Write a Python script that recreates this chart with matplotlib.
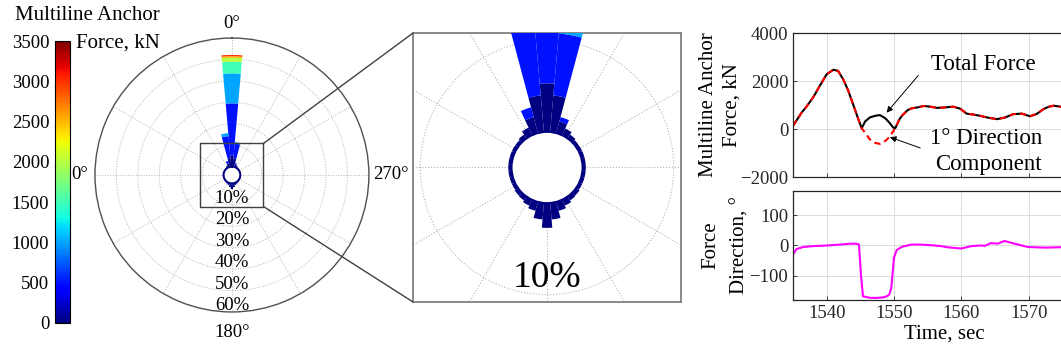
import numpy as np
import matplotlib
matplotlib.use('Agg')
import matplotlib.pyplot as plt
from matplotlib.patches import Wedge, Circle, ConnectionPatch
from matplotlib.colors import Normalize
from matplotlib.cm import ScalarMappable

plt.rcParams['font.family'] = ['Liberation Serif', 'DejaVu Serif']

# ---- wind rose data: 10 deg direction bins, 0 at top, counter-clockwise
directions = np.arange(0, 360, 10)
force_lo = [0, 500, 1000, 1500, 2000, 2500, 3000]   # lower bound of each force class, kN
f_0_500 = [5.3, 4.0, 1.8, 0.9, 0.5, 0.35, 0.35, 0.35, 0.35, 0.35, 0.35, 0.35,
           0.35, 0.45, 0.5, 0.7, 1.0, 1.8, 2.7, 1.8, 1.0, 0.7, 0.5, 0.45,
           0.35, 0.35, 0.35, 0.35, 0.35, 0.35, 0.35, 0.35, 0.5, 0.8, 1.3, 4.0]
f_500_1000 = [24.2, 10.3, 1.1, 0, 0, 0, 0, 0, 0, 0, 0, 0,
              0, 0, 0, 0, 0, 0, 0, 0, 0, 0, 0, 0,
              0, 0, 0, 0, 0, 0, 0, 0, 0, 0, 0.5, 6.8]
f_1000_1500 = [14.0, 1.4, 0, 0, 0, 0, 0, 0, 0, 0, 0, 0,
               0, 0, 0, 0, 0, 0, 0, 0, 0, 0, 0, 0,
               0, 0, 0, 0, 0, 0, 0, 0, 0, 0, 0, 0.7]
f_1500_2000 = [5.4] + [0] * 35
f_2000_2500 = [1.9] + [0] * 35
f_2500_3000 = [0.7] + [0] * 35
f_3000_3500 = [0.6] + [0] * 35
rose_classes = [f_0_500, f_500_1000, f_1000_1500, f_1500_2000,
                f_2000_2500, f_2500_3000, f_3000_3500]
pct_rings = [10, 20, 30, 40, 50, 60]

# ---- time series data
t_force = [1535.0, 1536.3, 1537.0, 1538.0, 1539.0, 1540.0, 1541.0, 1541.7, 1542.5,
           1543.2, 1544.0, 1544.7, 1545.2, 1545.7, 1546.4, 1547.2, 1547.9, 1548.7,
           1549.3, 1549.9, 1550.2, 1550.8, 1551.2, 1552.0, 1552.6, 1553.5, 1554.4,
           1555.4, 1556.4, 1557.6, 1558.8, 1559.8, 1560.8, 1561.8, 1562.8, 1564.0,
           1565.3, 1566.5, 1567.7, 1569.0, 1570.2, 1571.2, 1572.2, 1573.0, 1573.7,
           1574.5, 1575.5]
force_total = [130, 690, 930, 1320, 1810, 2280, 2470, 2420, 2050,
               1600, 970, 410, 30, 310, 480, 550, 580, 450,
               270, 55, 40, 400, 560, 780, 860, 900, 960,
               930, 880, 900, 930, 850, 640, 600, 550, 470,
               410, 480, 620, 640, 530, 630, 830, 930, 970,
               940, 880]
force_comp = [130, 690, 930, 1320, 1810, 2280, 2470, 2420, 2050,
              1600, 970, 410, 30, -150, -430, -580, -620, -500,
              -340, -85, 40, 400, 560, 780, 860, 900, 960,
              930, 880, 900, 930, 850, 640, 600, 550, 470,
              410, 480, 620, 640, 530, 630, 830, 930, 970,
              940, 880]

t_dir = [1535.0, 1535.5, 1536.5, 1538.0, 1540.0, 1542.0, 1543.5, 1544.4, 1544.8,
         1545.1, 1545.4, 1546.5, 1547.5, 1548.5, 1549.0, 1549.3, 1549.6, 1549.8,
         1550.0, 1550.4, 1551.2, 1552.6, 1554.0, 1555.5, 1557.0, 1558.0, 1560.0,
         1561.5, 1562.9, 1563.5, 1564.4, 1565.4, 1566.4, 1567.9, 1569.9, 1572.4,
         1574.4, 1575.5]
direction = [-30, -12, -5, -2, 0, 3, 6, 6, 3,
             -100, -168, -173, -173, -171, -167, -162, -140, -90,
             -40, -15, -4, 3, 3, 1, -2, -6, -10,
             -2, 0, -1, 8, 6, 15, 6, -5, -7,
             -6, -5]

cmap = plt.cm.jet
fmax = 3500
hole = 3.9
rmax = hole + 60
half = 14.7           # half size of zoomed square, in rose units
grid_c = '#b4b4b4'
navy = cmap(0.0)

fig = plt.figure(figsize=(10.61, 3.56), dpi=100)

# ---- main wind rose
ax = fig.add_axes([0.0895, 0.1236, 0.2582, 0.7697], projection='polar')
ax.set_theta_zero_location('N')
ax.set_theta_direction(1)
theta = np.deg2rad(directions)
bottom = np.full(len(directions), hole)
for lo, f in zip(force_lo, rose_classes):
    f = np.asarray(f, dtype=float)
    ax.bar(theta, f, width=np.deg2rad(10), bottom=bottom, color=cmap(lo / fmax),
           edgecolor='none', linewidth=0, zorder=3)
    bottom = bottom + f
circ = np.linspace(0, 2 * np.pi, 361)
for p in pct_rings[:-1]:
    ax.plot(circ, np.full_like(circ, hole + p), ls=':', lw=0.7, color=grid_c, zorder=1)
for a in range(0, 360, 30):
    ax.plot([np.deg2rad(a)] * 2, [hole, rmax], ls=':', lw=0.7, color=grid_c, zorder=1)
ax.plot(circ, np.full_like(circ, hole), color=navy, lw=1.4, zorder=4)
ax.set_ylim(0, rmax)
ax.set_xticks([])
ax.set_yticks([])
ax.grid(False)
ax.spines['polar'].set_color('#505050')
ax.spines['polar'].set_linewidth(1.0)
for p in pct_rings:
    ax.text(np.pi, hole + p - 3, '%d%%' % p, ha='center', va='center', fontsize=13.5, zorder=5)
ax.text(0, 70.5, '0°', ha='center', va='center', fontsize=13.5)
ax.text(np.pi, 73.3, '180°', ha='center', va='center', fontsize=13.5)
ax.text(1.5 * np.pi, 65.8, '270°', ha='left', va='center', fontsize=13.5)
ax.text(0.5 * np.pi, 67.2, '0°', ha='right', va='center', fontsize=13.5)

# zoom box on the main rose
bx = np.array([half, -half, -half, half, half])
by = np.array([half, half, -half, -half, half])
ax.plot(np.arctan2(by, bx) - np.pi / 2, np.hypot(bx, by), color='#404040', lw=1.0, zorder=6)

# ---- zoomed inset
axi = fig.add_axes([0.3893, 0.1517, 0.2526, 0.7556])
bottom = np.full(len(directions), hole)
for lo, f in zip(force_lo, rose_classes):
    f = np.asarray(f, dtype=float)
    for d, b, h in zip(directions, bottom, f):
        if h > 0:
            axi.add_patch(Wedge((0, 0), b + h, 90 + d - 5, 90 + d + 5, width=h,
                                facecolor=cmap(lo / fmax), edgecolor='none', zorder=3))
    bottom = bottom + f
for p in pct_rings[:2]:
    axi.add_patch(Circle((0, 0), hole + p, fill=False, ls=':', lw=0.8, ec=grid_c, zorder=1))
for a in range(0, 360, 30):
    ang = np.deg2rad(90 + a)
    axi.plot([hole * np.cos(ang), 30 * np.cos(ang)], [hole * np.sin(ang), 30 * np.sin(ang)],
             ls=':', lw=0.8, color=grid_c, zorder=1)
axi.add_patch(Circle((0, 0), hole, fill=False, ec=navy, lw=1.5, zorder=4))
axi.text(0, -12.0, '10%', ha='center', va='center', fontsize=27, zorder=5)
axi.set_xlim(-half, half)
axi.set_ylim(-half, half)
axi.set_xticks([])
axi.set_yticks([])
for s in axi.spines.values():
    s.set_color('#808080')
    s.set_linewidth(1.3)

for xa, ya, xb, yb in [(half, half, -half, half), (half, -half, -half, -half)]:
    con = ConnectionPatch(xyA=(np.arctan2(ya, xa) - np.pi / 2, np.hypot(xa, ya)), coordsA='data', axesA=ax,
                          xyB=(xb, yb), coordsB='data', axesB=axi, color='#404040', lw=1.0)
    fig.add_artist(con)

# ---- colorbar
cax = fig.add_axes([0.0518, 0.0927, 0.0141, 0.792])
sm = ScalarMappable(norm=Normalize(0, fmax), cmap=cmap)
cb = fig.colorbar(sm, cax=cax)
cb.set_ticks(range(0, 3501, 500))
cax.yaxis.set_ticks_position('left')
cax.yaxis.set_label_position('left')
cax.tick_params(length=0, labelsize=13.5, pad=4)
cb.outline.set_linewidth(0.8)
fig.text(160 / 1061, 1 - 16 / 356, 'Multiline Anchor', ha='right', va='center', fontsize=15)
fig.text(160 / 1061, 1 - 43 / 356, 'Force, kN', ha='right', va='center', fontsize=15)

# ---- time series
def style(a):
    a.grid(True, color='#dcdcdc', lw=0.7)
    a.set_axisbelow(True)
    for s in a.spines.values():
        s.set_color('#262626')
        s.set_linewidth(0.9)
    a.tick_params(direction='in', length=3, width=0.6, labelsize=13.5, colors='#262626')
    a.set_xlim(1535, 1580)
    a.set_xticks(range(1540, 1571, 10))

ax1 = fig.add_axes([0.7474, 0.5028, 0.2856, 0.4045])
style(ax1)
ax1.plot(t_force, force_total, color='k', lw=1.5)
ax1.plot(t_force, force_comp, color='r', lw=1.5, ls=(0, (3, 2)))
ax1.set_ylim(-2000, 4000)
ax1.set_yticks([-2000, 0, 2000, 4000])
ax1.tick_params(labelbottom=False)
ax1.set_ylabel('Multiline Anchor\nForce, kN', fontsize=15, linespacing=1.3)
ax1.yaxis.set_label_coords(-0.17, 0.5)
ax1.text(1571.0, 2700, 'Total Force', ha='right', va='center', fontsize=16.5)
ax1.text(1572.0, -380, '1° Direction', ha='right', va='center', fontsize=16.5)
ax1.text(1572.0, -1480, 'Component', ha='right', va='center', fontsize=16.5)
arrow = dict(arrowstyle='-|>', color='k', lw=0.7, mutation_scale=9, shrinkA=0, shrinkB=0)
ax1.annotate('', xy=(1548.9, 680), xytext=(1553.6, 2230), arrowprops=arrow)
ax1.annotate('', xy=(1549.4, -340), xytext=(1553.9, -790), arrowprops=arrow)

ax2 = fig.add_axes([0.7474, 0.1573, 0.2856, 0.3062])
style(ax2)
ax2.plot(t_dir, direction, color='#ff00ff', lw=1.5)
ax2.set_ylim(-180, 180)
ax2.set_yticks([-100, 0, 100])
ax2.set_xlabel('Time, sec', fontsize=15, labelpad=2)
ax2.set_ylabel('Force\nDirection, °', fontsize=15, linespacing=1.75)
ax2.yaxis.set_label_coords(-0.142, 0.5)

fig.savefig('out.png', dpi=100)
